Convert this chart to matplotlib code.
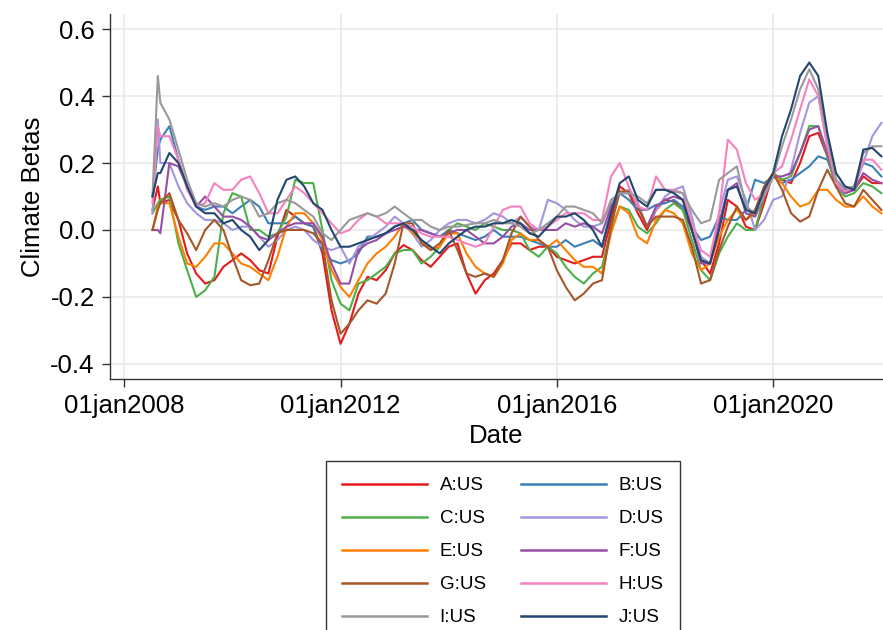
import numpy as np
import pandas as pd
import matplotlib
matplotlib.use("Agg")
import matplotlib.pyplot as plt

plt.rcParams['font.family'] = ['Liberation Sans', 'DejaVu Sans']
plt.rcParams['axes.unicode_minus'] = False

# two early observations, then every second month from Sep 2008 to Jan 2022
dates = pd.to_datetime(['2008-07-10', '2008-08-15']).append(
    pd.date_range('2008-09-01', '2022-01-01', freq='2MS'))

names = ['A:US', 'B:US', 'C:US', 'D:US', 'E:US', 'F:US', 'G:US', 'H:US', 'I:US', 'J:US']

beta_a = [0.06, 0.13,
          0.08, 0.09, 0.03, -0.07, -0.13, -0.16, -0.15, -0.11, -0.09, -0.07,
          -0.09, -0.12, -0.13, -0.02, 0.06, 0.04, 0.02, 0.01, -0.07, -0.24,
          -0.34, -0.28, -0.19, -0.14, -0.15, -0.12, -0.07, -0.045, -0.06, -0.09,
          -0.11, -0.08, -0.05, -0.04, -0.13, -0.19, -0.15, -0.13, -0.09, -0.04,
          -0.04, -0.06, -0.05, -0.05, -0.08, -0.09, -0.10, -0.09, -0.08, -0.08,
          0.03, 0.13, 0.11, 0.05, 0.0, 0.06, 0.09, 0.085, 0.06, 0.0,
          -0.09, -0.13, -0.04, 0.09, 0.07, 0.01, 0.0, 0.08, 0.17, 0.15,
          0.14, 0.20, 0.28, 0.29, 0.22, 0.13, 0.11, 0.12, 0.16, 0.14,
          0.14]
beta_b = [0.10, 0.24,
          0.27, 0.31, 0.21, 0.13, 0.07, 0.06, 0.07, 0.07, 0.05, 0.07,
          0.09, 0.07, 0.02, 0.02, 0.02, 0.04, 0.02, 0.01, -0.06, -0.09,
          -0.10, -0.09, -0.07, -0.02, -0.02, -0.01, 0.01, 0.02, 0.03, 0.0,
          -0.01, -0.02, 0.0, -0.01, -0.02, -0.03, -0.02, 0.0, -0.02, -0.02,
          -0.02, -0.03, -0.04, -0.05, -0.05, -0.03, -0.05, -0.04, -0.03, -0.05,
          0.06, 0.11, 0.09, 0.06, 0.06, 0.075, 0.08, 0.09, 0.07, 0.01,
          -0.03, -0.02, 0.04, 0.03, 0.03, 0.06, 0.15, 0.14, 0.16, 0.14,
          0.15, 0.17, 0.19, 0.22, 0.21, 0.14, 0.12, 0.13, 0.20, 0.19,
          0.16]
beta_c = [0.05, 0.08,
          0.09, 0.10, -0.04, -0.12, -0.20, -0.18, -0.14, 0.05, 0.11, 0.10,
          0.0, 0.0, -0.02, -0.01, 0.04, 0.15, 0.14, 0.14, 0.0, -0.15,
          -0.22, -0.24, -0.16, -0.15, -0.13, -0.11, -0.07, -0.06, -0.06, -0.10,
          -0.08, -0.05, 0.0, 0.02, 0.01, 0.0, 0.02, 0.01, 0.0, 0.0,
          -0.01, -0.06, -0.08, -0.05, -0.07, -0.11, -0.14, -0.16, -0.13, -0.11,
          0.0, 0.07, 0.06, 0.01, -0.01, 0.02, 0.06, 0.08, 0.06, -0.03,
          -0.12, -0.15, -0.07, -0.02, 0.02, 0.0, 0.0, 0.10, 0.17, 0.15,
          0.16, 0.23, 0.31, 0.31, 0.22, 0.13, 0.10, 0.11, 0.14, 0.13,
          0.11]
beta_d = [0.05, 0.33,
          0.20, 0.20, 0.13, 0.08, 0.05, 0.03, 0.03, 0.02, 0.0, 0.01,
          0.01, -0.02, -0.05, -0.03, 0.0, 0.01, 0.0, -0.03, -0.05, -0.06,
          -0.05, -0.10, -0.05, -0.03, -0.01, 0.01, 0.04, 0.02, -0.01, -0.05,
          -0.03, 0.0, 0.02, 0.03, 0.03, 0.02, 0.03, 0.05, 0.04, 0.02,
          0.04, 0.01, 0.0, 0.09, 0.08, 0.06, 0.03, 0.01, 0.01, 0.02,
          0.08, 0.11, 0.12, 0.08, 0.01, 0.06, 0.10, 0.12, 0.13, 0.04,
          -0.08, -0.10, 0.05, 0.15, 0.16, 0.09, 0.0, 0.03, 0.09, 0.10,
          0.18, 0.29, 0.38, 0.40, 0.25, 0.13, 0.11, 0.13, 0.20, 0.28,
          0.32]
beta_e = [0.0, 0.07,
          0.08, 0.08, -0.02, -0.10, -0.11, -0.08, -0.04, -0.04, -0.07, -0.10,
          -0.11, -0.13, -0.15, -0.08, 0.01, 0.05, 0.05, 0.02, -0.03, -0.12,
          -0.17, -0.20, -0.15, -0.10, -0.07, -0.05, -0.02, 0.02, -0.01, -0.03,
          -0.06, -0.05, -0.01, -0.01, -0.07, -0.11, -0.13, -0.14, -0.10, -0.03,
          -0.01, -0.03, -0.03, -0.05, -0.03, -0.06, -0.09, -0.11, -0.11, -0.13,
          -0.01, 0.07, 0.05, -0.02, -0.04, 0.03, 0.06, 0.05, 0.02, -0.07,
          -0.12, -0.10, -0.02, 0.03, 0.06, 0.03, 0.05, 0.11, 0.17, 0.14,
          0.10, 0.07, 0.08, 0.12, 0.12, 0.09, 0.07, 0.07, 0.10, 0.07,
          0.05]
beta_f = [0.0, 0.0,
          -0.01, 0.20, 0.19, 0.13, 0.07, 0.10, 0.07, 0.04, 0.04, 0.03,
          0.01, -0.02, -0.03, -0.01, 0.01, 0.02, 0.02, 0.02, -0.02, -0.10,
          -0.16, -0.16, -0.06, -0.04, -0.03, -0.01, 0.0, 0.01, 0.0, 0.0,
          -0.01, -0.02, -0.01, 0.0, 0.0, -0.02, -0.04, -0.04, -0.02, 0.01,
          0.02, 0.0, 0.0, 0.0, 0.0, 0.02, 0.01, 0.02, 0.01, -0.01,
          0.07, 0.11, 0.11, 0.07, 0.01, 0.07, 0.09, 0.10, 0.09, 0.0,
          -0.10, -0.10, 0.02, 0.12, 0.14, 0.05, 0.04, 0.10, 0.16, 0.16,
          0.17, 0.23, 0.30, 0.31, 0.23, 0.14, 0.11, 0.12, 0.17, 0.15,
          0.14]
beta_g = [0.0, 0.06,
          0.08, 0.11, 0.03, -0.01, -0.06, 0.0, 0.03, 0.0, -0.08, -0.15,
          -0.165, -0.16, -0.09, -0.01, 0.0, 0.0, 0.0, -0.01, -0.04, -0.21,
          -0.31, -0.28, -0.24, -0.21, -0.22, -0.19, -0.10, 0.02, 0.02, -0.04,
          -0.06, -0.04, 0.0, -0.06, -0.13, -0.14, -0.13, -0.14, -0.09, -0.01,
          0.04, 0.01, -0.03, -0.05, -0.12, -0.17, -0.21, -0.19, -0.16, -0.15,
          0.01, 0.115, 0.115, 0.07, 0.01, 0.04, 0.04, 0.04, 0.03, -0.05,
          -0.16, -0.15, -0.06, 0.01, 0.07, 0.03, 0.06, 0.13, 0.17, 0.12,
          0.05, 0.025, 0.04, 0.12, 0.18, 0.13, 0.08, 0.07, 0.12, 0.09,
          0.06]
beta_h = [0.08, 0.31,
          0.28, 0.28, 0.21, 0.12, 0.07, 0.08, 0.14, 0.12, 0.12, 0.15,
          0.16, 0.11, 0.05, 0.05, 0.09, 0.13, 0.11, 0.08, 0.05, 0.02,
          -0.01, 0.0, 0.03, 0.05, 0.04, 0.02, 0.02, 0.02, 0.01, -0.01,
          -0.02, -0.02, -0.02, -0.03, -0.04, -0.05, -0.04, 0.01, 0.06, 0.07,
          0.07, 0.02, 0.0, 0.01, 0.03, 0.05, 0.05, 0.05, 0.03, 0.03,
          0.16, 0.20, 0.13, 0.07, 0.06, 0.16, 0.12, 0.12, 0.11, 0.02,
          -0.06, -0.08, 0.05, 0.27, 0.24, 0.14, 0.09, 0.11, 0.17, 0.19,
          0.27, 0.36, 0.45, 0.40, 0.25, 0.14, 0.115, 0.13, 0.21, 0.21,
          0.18]
beta_i = [0.10, 0.46,
          0.38, 0.33, 0.24, 0.15, 0.08, 0.07, 0.08, 0.07, 0.09, 0.10,
          0.09, 0.04, 0.05, 0.08, 0.09, 0.08, 0.06, 0.04, -0.01, -0.03,
          0.0, 0.03, 0.04, 0.05, 0.04, 0.05, 0.07, 0.05, 0.03, 0.03,
          0.01, 0.0, 0.01, 0.01, 0.015, 0.02, 0.02, 0.03, 0.02, 0.02,
          0.01, -0.01, 0.0, 0.02, 0.04, 0.07, 0.07, 0.06, 0.05, 0.02,
          0.09, 0.11, 0.11, 0.10, 0.08, 0.12, 0.12, 0.115, 0.11, 0.06,
          0.02, 0.03, 0.15, 0.17, 0.19, 0.07, 0.05, 0.10, 0.16, 0.25,
          0.33, 0.42, 0.48, 0.42, 0.28, 0.15, 0.125, 0.13, 0.23, 0.25,
          0.25]
beta_j = [0.10, 0.17,
          0.17, 0.23, 0.20, 0.13, 0.07, 0.05, 0.05, 0.02, 0.03, 0.0,
          -0.02, -0.06, -0.03, 0.09, 0.15, 0.16, 0.13, 0.08, 0.06, 0.0,
          -0.05, -0.05, -0.04, -0.03, -0.02, -0.01, 0.01, 0.02, 0.0, -0.03,
          -0.05, -0.07, -0.04, -0.02, 0.0, 0.01, 0.01, 0.02, 0.02, 0.03,
          0.02, -0.01, -0.02, 0.01, 0.04, 0.04, 0.05, 0.03, 0.0, -0.05,
          0.05, 0.14, 0.16, 0.09, 0.07, 0.12, 0.12, 0.11, 0.09, 0.0,
          -0.09, -0.10, 0.0, 0.12, 0.13, 0.06, 0.05, 0.12, 0.17, 0.28,
          0.36, 0.46, 0.50, 0.46, 0.29, 0.17, 0.13, 0.12, 0.24, 0.245,
          0.22]

series = [beta_a, beta_b, beta_c, beta_d, beta_e, beta_f, beta_g, beta_h, beta_i, beta_j]
colors = ['#e41a1c', '#3b7fb9', '#4daf4a', '#a297dc', '#ff7f00',
          '#984ea3', '#a65628', '#f781bf', '#999999', '#22466e']

fig = plt.figure(figsize=(8.83, 6.3), dpi=100)
ax = fig.add_axes([110 / 883, 1 - 379 / 630, 773 / 883, 365 / 630])

handles = []
for name, vals, col in zip(names, series, colors):
    h, = ax.plot(dates, vals, color=col, lw=1.5, label=name)
    handles.append(h)

ax.set_ylim(-0.445, 0.645)
ax.set_xlim(pd.Timestamp('2007-09-27'), pd.Timestamp('2022-01-12'))
ax.set_yticks([-0.4, -0.2, 0.0, 0.2, 0.4, 0.6])
ax.yaxis.set_major_formatter(matplotlib.ticker.FormatStrFormatter('%.1f'))
ticks = pd.to_datetime(['2008-01-01', '2012-01-01', '2016-01-01', '2020-01-01'])
ax.set_xticks(ticks)
ax.set_xticklabels([t.strftime('%d%b%Y').lower() for t in ticks])

ax.grid(True, color='#e8e8e8', lw=1.1)
ax.set_axisbelow(True)
for s in ['top', 'right']:
    ax.spines[s].set_visible(False)
for s in ['left', 'bottom']:
    ax.spines[s].set_color('#333333')
    ax.spines[s].set_linewidth(1.0)
ax.tick_params(axis='both', labelsize=18.5, length=6, width=1, color='#333333', pad=5)

ax.set_ylabel('Climate Betas', fontsize=18.5, labelpad=4)
ax.set_xlabel('Date', fontsize=18.5, labelpad=4)

# legend is filled column by column, so A C E G I go left and B D F H J right
order = [0, 2, 4, 6, 8, 1, 3, 5, 7, 9]
leg = fig.legend([handles[i] for i in order], [names[i] for i in order],
                 loc='upper center', bbox_to_anchor=(503 / 883, 1 - 461 / 630),
                 borderaxespad=0, ncol=2, fontsize=13.5, frameon=True, fancybox=False,
                 handlelength=4.5, handletextpad=0.7, columnspacing=1.9,
                 labelspacing=0.85, borderpad=0.85)
leg.get_frame().set_edgecolor('black')
leg.get_frame().set_linewidth(1.0)
for line in leg.get_lines():
    line.set_linewidth(1.8)

fig.savefig('out.png', dpi=100)
